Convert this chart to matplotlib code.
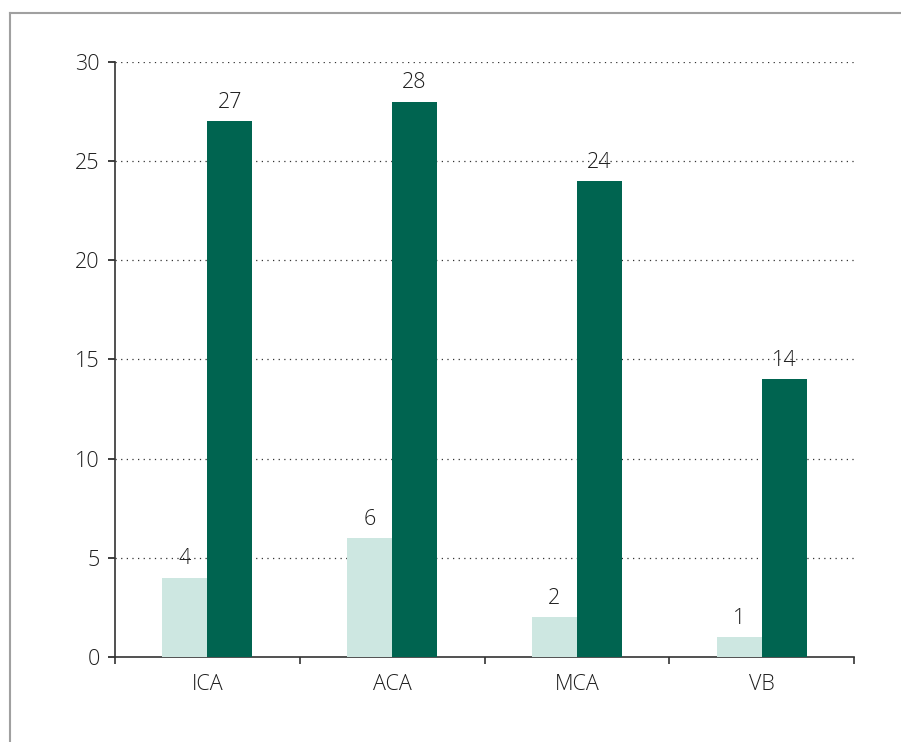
import matplotlib.pyplot as plt
from matplotlib.lines import Line2D
import numpy as np

categories = ['ICA', 'ACA', 'MCA', 'VB']
series_light = [4, 6, 2, 1]
series_dark = [27, 28, 24, 14]
y_ticks = [0, 5, 10, 15, 20, 25, 30]

plt.rcParams['font.family'] = ['Open Sans', 'DejaVu Sans']
plt.rcParams['font.weight'] = 300
FS = 15.5
TXT = '#1e1e1e'

fig = plt.figure(figsize=(9.01, 7.42), dpi=100)
ax = fig.add_axes([115 / 901, 1 - 657 / 742, (854 - 115) / 901, (657 - 62) / 742])

x = np.arange(len(categories))
w = 45 / 185
b1 = ax.bar(x - w / 2, series_light, w, color='#cde7e1', zorder=3)
b2 = ax.bar(x + w / 2, series_dark, w, color='#006450', zorder=3)

for bars, vals in ((b1, series_light), (b2, series_dark)):
    for r, v in zip(bars, vals):
        ax.annotate(str(v), (r.get_x() + r.get_width() / 2, v), xytext=(0, 6),
                    textcoords='offset points', ha='center', va='bottom',
                    fontsize=FS, color=TXT, zorder=4)

ax.set_xlim(-0.5, len(categories) - 0.5)
ax.set_ylim(0, 30)
ax.set_yticks(y_ticks)
ax.set_xticks(x)
ax.set_xticklabels(categories)
ax.set_xticks(np.arange(len(categories) + 1) - 0.5, minor=True)
ax.tick_params(axis='x', which='major', length=0, pad=12, labelsize=FS, colors=TXT)
ax.tick_params(axis='x', which='minor', length=5, width=1.2, color='#333333')
ax.tick_params(axis='y', length=5, width=1.2, pad=6, labelsize=FS, colors=TXT)

for t in y_ticks[1:]:
    ax.axhline(t, color='#333333', linestyle=(0, (1, 3.5)), linewidth=0.9, zorder=1)

for s in ('top', 'right'):
    ax.spines[s].set_visible(False)
for s in ('left', 'bottom'):
    ax.spines[s].set_color('#333333')
    ax.spines[s].set_linewidth(1.2)

# frame around the figure
fig.add_artist(Line2D([10 / 901, 1], [1 - 13 / 742, 1 - 13 / 742], color='#a0a0a0', linewidth=1.5, transform=fig.transFigure))
fig.add_artist(Line2D([10 / 901, 10 / 901], [0, 1 - 13 / 742], color='#a0a0a0', linewidth=1.5, transform=fig.transFigure))

fig.savefig('out.png', dpi=100)
